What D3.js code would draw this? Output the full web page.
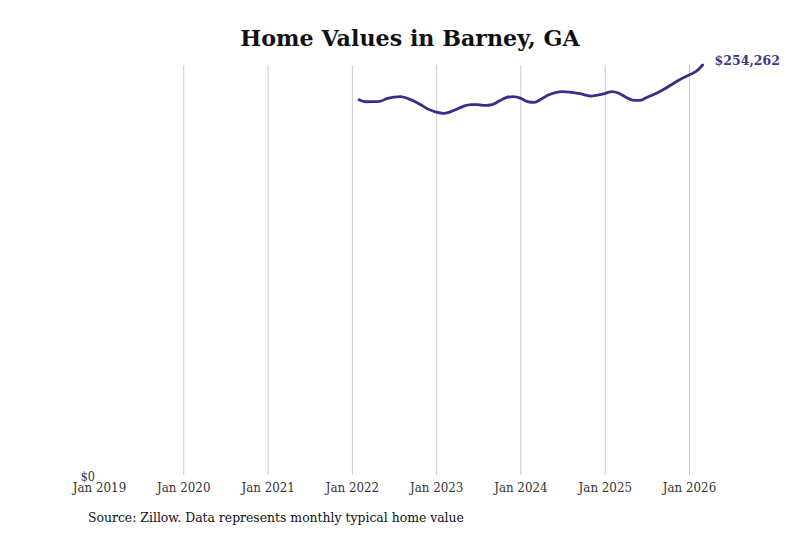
<!DOCTYPE html>
<html><head><meta charset="utf-8">
<script src="https://cdn.jsdelivr.net/npm/d3@7"></script>
<style>
body{margin:0;background:#fff;}
svg{display:block;}
.cond{font-family:'DejaVu Serif';font-stretch:condensed;}
</style></head>
<body><svg id="c" width="800" height="533"></svg>
<script>
const title = "Home Values in Barney, GA";
const source = "Source: Zillow. Data represents monthly typical home value";
const startMonth = "2022-02";
const values = [232700,231460,231500,231650,233450,234380,234700,233450,231580,229100,226600,
225060,224250,225060,226900,228800,229700,229700,229200,229700,231900,234070,234700,
233760,231580,231080,233140,235620,237180,237800,237490,236870,235930,235000,235620,
236560,237800,236870,234380,232510,232330,234070,235930,238110,240600,243400,245880,
248060,250240,254262];
const tickYears = [2019,2020,2021,2022,2023,2024,2025,2026];
const lastLabel = "$254,262";

const svg = d3.select("#c");
const m = {left:99, right:111, top:65, bottom:58};
const W = 800, H = 533;
const parse = d3.timeParse("%Y-%m");
const t0 = parse(startMonth);
const data = values.map((v,i)=>({date:d3.timeMonth.offset(t0,i), value:v}));

const x = d3.scaleTime().domain([new Date(2019,0,1), new Date(2026,0,1)]).range([m.left, 689]);
const y = d3.scaleLinear().domain([0, d3.max(values)]).range([H-m.bottom, m.top]);

svg.append("text").attr("x",410).attr("y",46).attr("text-anchor","middle")
  .attr("font-family","DejaVu Serif").attr("font-weight","bold").attr("font-size",22.2)
  .attr("fill","#111").text(title);

const xAxis = svg.append("g").attr("transform",`translate(0,${H-m.bottom})`)
  .call(d3.axisBottom(x).tickValues(tickYears.map(yy=>new Date(yy,0,1)))
    .tickFormat(d3.timeFormat("Jan %Y")).tickSize(-(H-m.bottom-m.top)).tickPadding(8));
xAxis.select(".domain").remove();
xAxis.selectAll(".tick line").attr("stroke","#ccc").attr("stroke-width",1)
  .filter(d=>d.getFullYear()===2019).remove();
xAxis.selectAll(".tick text").attr("class","cond").attr("font-size",13.2).attr("fill","#333");

const yAxis = svg.append("g").attr("transform",`translate(${m.left-4},0)`)
  .call(d3.axisLeft(y).tickValues([0]).tickFormat(d=>"$"+d).tickSize(0).tickPadding(0));
yAxis.select(".domain").remove();
yAxis.selectAll(".tick text").attr("class","cond").attr("font-size",12.5).attr("fill","#333").attr("dy","0.4em");

const line = d3.line().x(d=>x(d.date)).y(d=>y(d.value)).curve(d3.curveMonotoneX);
svg.append("path").datum(data).attr("d",line).attr("fill","none")
  .attr("stroke","#3a2f88").attr("stroke-width",2.8).attr("stroke-linejoin","round").attr("stroke-linecap","round");

const last = data[data.length-1];
svg.append("text").attr("x",x(last.date)+12).attr("y",y(last.value)).attr("dy","0")
  .attr("font-family","DejaVu Serif").attr("font-weight","bold").attr("font-size",12.5)
  .attr("fill","#3a3788").text(lastLabel);

svg.append("text").attr("class","cond").attr("x",88).attr("y",522).attr("font-size",13.8)
  .attr("fill","#111").text(source);
</script></body></html>
